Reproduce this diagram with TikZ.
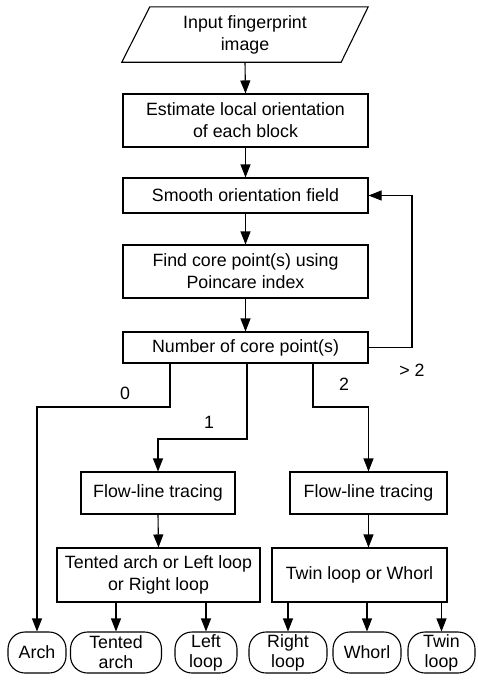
\documentclass[tikz,border=0pt]{standalone}
\usepackage{fontspec}
\setmainfont{Liberation Sans}
\usetikzlibrary{arrows.meta,calc}
\begin{document}
\begin{tikzpicture}[x=1pt,y=-1pt,
  every node/.style={font=\fontsize{17.8}{22}\selectfont},
  box/.style={draw,line width=1.1pt,inner sep=0pt,align=center},
  term/.style={draw,line width=1.1pt,inner sep=0pt,align=center,rounded corners=17pt,minimum height=41pt,font=\fontsize{17.8}{20}\selectfont},
  arr/.style={line width=1.1pt,-{Triangle[length=13pt,width=10pt]}},
  lbl/.style={inner sep=0pt}]
\useasboundingbox (0,0) rectangle (477,680);
% input parallelogram
\node[inner sep=0pt,minimum width=246pt,minimum height=55pt,align=center] (in) at (245,34.5) {Input fingerprint\\image};
\draw[line width=1.1pt] (in.south west) -- ($(in.north west)+(28,0)$) -- (in.north east) -- ($(in.south east)+(-27,0)$) -- cycle;
\node[box,minimum width=245pt,minimum height=53pt] (est) at (245.5,120.5) {Estimate local orientation\\of each block};
\node[box,minimum width=245pt,minimum height=35pt] (smooth) at (245.5,195.5) {Smooth orientation field};
\node[box,minimum width=245pt,minimum height=53pt] (find) at (245.5,271.5) {Find core point(s) using\\Poincare index};
\node[box,minimum width=245pt,minimum height=31pt] (num) at (245.5,347.5) {Number of core point(s)};
\node[box,minimum width=154pt,minimum height=42pt] (flow1) at (158,493) {Flow-line tracing};
\node[box,minimum width=157pt,minimum height=42pt] (flow2) at (368.5,493) {Flow-line tracing};
\node[box,minimum width=203pt,minimum height=54pt] (tented) at (158.5,575) {Tented arch or Left loop\\or Right loop};
\node[box,minimum width=175pt,minimum height=54pt] (twin) at (359.5,575) {Twin loop or Whorl};
% terminals
\node[term,minimum width=58pt] (arch) at (37,652.5) {Arch};
\node[term,minimum width=91pt] (tarch) at (116,652.5) {Tented\\arch};
\node[term,minimum width=62pt] (lloop) at (206,652.5) {Left\\loop};
\node[term,minimum width=78pt] (rloop) at (288,652.5) {Right\\loop};
\node[term,minimum width=68pt] (whorl) at (367,652.5) {Whorl};
\node[term,minimum width=67pt] (tloop) at (441.5,652.5) {Twin\\loop};
% labels
\node[lbl] (l0) at (125,393) {0};
\node[lbl] (l1) at (209,422) {1};
\node[lbl] (l2) at (344,384) {2};
\node[lbl] (lg) at (412,370) {> 2};
% main connectors
\draw[arr] (in.south) -- (est.north);
\draw[arr] (est.south) -- (smooth.north);
\draw[arr] (smooth.south) -- (find.north);
\draw[arr] (find.south) -- (num.north);
% feedback
\coordinate (fb) at (412,0);
\draw[arr] (num.east) -- (num.east -| fb) -- (smooth.east -| fb) -- (smooth.east);
% branches
\coordinate (b0) at (170,407);
\coordinate (b1) at (247,439);
\coordinate (b2) at (313,407);
\draw[arr] (num.south -| b0) -- (b0) -| (arch.north);
\draw[arr] (num.south -| b1) -- (b1) -| (flow1.north);
\draw[arr] (num.south -| b2) -- (b2) -| (flow2.north);
\draw[arr] (flow1.south) -- (tented.north);
\draw[arr] (flow2.south) -- (twin.north -| flow2.south);
% to terminals
\draw[arr] (tented.south -| tarch.north) -- (tarch.north);
\draw[arr] (tented.south -| lloop.north) -- (lloop.north);
\draw[arr] (twin.south -| rloop.north) -- (rloop.north);
\draw[arr] (twin.south -| whorl.north) -- (whorl.north);
\draw[arr] (twin.south -| tloop.north) -- (tloop.north);
\end{tikzpicture}
\end{document}
